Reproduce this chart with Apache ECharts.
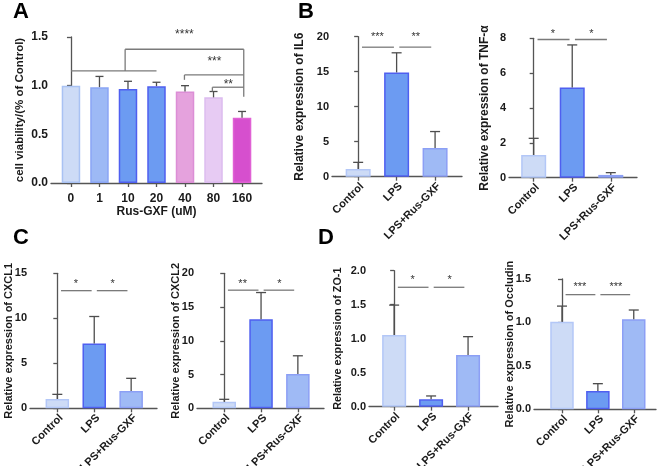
<!DOCTYPE html>
<html>
<head>
<meta charset="utf-8">
<script src="https://cdn.jsdelivr.net/npm/echarts@6/dist/echarts.min.js"></script>
<style>
  html, body { margin: 0; padding: 0; background: #fff; }
  #chart { width: 658px; height: 466px; }
</style>
</head>
<body>
<div id="chart"></div>
<script>
// ---- data ----
const groups = ["Control", "LPS", "LPS+Rus-GXF"];
const doses = ["0", "1", "10", "20", "40", "80", "160"];

const viability = [1.0, 0.985, 0.965, 0.995, 0.94, 0.88, 0.67];
const viabilitySd = [0, 0.11, 0.08, 0.04, 0.06, 0.06, 0.065];

const il6 = [1.1, 14.9, 4.1];
const il6Sd = [0.95, 2.8, 2.35];
const tnf = [1.3, 5.17, 0.16];
const tnfSd = [0.96, 2.45, 0.13];
const cxcl1 = [1.03, 7.2, 1.92];
const cxcl1Sd = [0.52, 3.0, 1.41];
const cxcl2 = [0.98, 13.2, 5.08];
const cxcl2Sd = [0.35, 3.95, 2.7];
const zo1 = [1.054, 0.108, 0.76];
const zo1Sd = [0.44, 0.05, 0.27];
const occludin = [1.008, 0.21, 1.036];
const occludinSd = [0.18, 0.085, 0.107];

// significance marks: [x1, y1, x2, y2] segments and [x, y, text] labels
const sigLinesA = [
  [0, 1.151, 3, 1.151], [1.9, 1.151, 1.9, 1.374], [1.9, 1.374, 6.06, 1.374],
  [6.06, 1.374, 6.06, 0.885], [3.98, 1.06, 3.98, 1.11], [3.98, 1.11, 6.06, 1.11],
  [4.96, 0.94, 4.96, 0.984], [4.96, 0.984, 6.06, 0.984]
];
const sigTextA = [[3.98, 1.54, "****"], [5.03, 1.264, "***"], [5.52, 1.03, "**"]];

const il6Marks = ["***", "**"];
const tnfMarks = ["*", "*"];
const cxcl1Marks = ["*", "*"];
const cxcl2Marks = ["**", "*"];
const zo1Marks = ["*", "*"];
const occludinMarks = ["***", "***"];
// [bracket line y, star y]
const il6SigY = [18.5, 20.3];
const tnfSigY = [7.93, 8.39];
const cxcl1SigY = [13.07, 14.07];
const cxcl2SigY = [17.5, 18.76];
const zo1SigY = [1.756, 1.897];
const occludinSigY = [1.32, 1.43];

// ---- styling ----
const FONT = 'Arial, "Liberation Sans", sans-serif';
const AXIS = "#555";
const groupFill = ["#cddbf6", "#6c9bf2", "#9fbaf5"];
const groupBorder = ["#b3c7f7", "#4f5ff0", "#8c9ff5"];
const doseFill = ["#cddbf6", "#9db9f5", "#6c9bf2", "#6c9bf2", "#e5a2dd", "#e7cbf3", "#d64fce"];
const doseBorder = ["#a9c2f3", "#8aa5f5", "#4f5ff0", "#4f5ff0", "#dc8ed6", "#dcbcef", "#e061d4"];

function pairLines(y) {
  return [[0.1, y, 0.93, y], [1.07, y, 1.9, y]];
}
function pairText(y, marks) {
  return [[0.5, y, marks[0]], [1.5, y, marks[1]]];
}

const panels = [
  { values: viability, sd: viabilitySd, labels: doses, fill: doseFill, border: doseBorder,
    grid: { left: 51, top: 37, width: 211, height: 146 }, xMin: -0.7, xMax: 6.7,
    yMax: 1.5, yStep: 0.5, dec: 1, yName: "cell viability/(% of Control)", nameGap: 25, nameFont: 11.5,
    xName: "Rus-GXF (uM)", rotate: 0, barWidth: 18.5, cap: 8, tickFont: 12,
    lines: sigLinesA, texts: sigTextA, starFont: 12 },
  { values: il6, sd: il6Sd, labels: groups, fill: groupFill, border: groupBorder,
    grid: { left: 332, top: 36.7, width: 130, height: 140 }, xMin: -0.68, xMax: 2.7,
    yMax: 20, yStep: 5, dec: 0, yName: "Relative expression of IL6", nameGap: 26, nameFont: 12,
    rotate: 45, barWidth: 25, cap: 10,
    lines: pairLines(il6SigY[0]), texts: pairText(il6SigY[1], il6Marks) },
  { values: tnf, sd: tnfSd, labels: groups, fill: groupFill, border: groupBorder,
    grid: { left: 509, top: 38.3, width: 128, height: 139.4 }, xMin: -0.64, xMax: 2.68,
    yMax: 8, yStep: 2, dec: 0, yName: "Relative expression of TNF-\u03b1", nameGap: 18, nameFont: 12,
    rotate: 45, barWidth: 25, cap: 10,
    lines: pairLines(tnfSigY[0]), texts: pairText(tnfSigY[1], tnfMarks) },
  { values: cxcl1, sd: cxcl1Sd, labels: groups, fill: groupFill, border: groupBorder,
    grid: { left: 30, top: 273.3, width: 127, height: 135 }, xMin: -0.74, xMax: 2.7,
    yMax: 15, yStep: 5, dec: 0, yName: "Relative expression of CXCL1", nameGap: 15.5, nameFont: 11,
    rotate: 45, barWidth: 23.5, cap: 10,
    lines: pairLines(cxcl1SigY[0]), texts: pairText(cxcl1SigY[1], cxcl1Marks) },
  { values: cxcl2, sd: cxcl2Sd, labels: groups, fill: groupFill, border: groupBorder,
    grid: { left: 197, top: 273.3, width: 127, height: 135 }, xMin: -0.74, xMax: 2.71,
    yMax: 20, yStep: 5, dec: 0, yName: "Relative expression of CXCL2", nameGap: 15.5, nameFont: 11,
    rotate: 45, barWidth: 23.5, cap: 10,
    lines: pairLines(cxcl2SigY[0]), texts: pairText(cxcl2SigY[1], cxcl2Marks) },
  { values: zo1, sd: zo1Sd, labels: groups, fill: groupFill, border: groupBorder,
    grid: { left: 369, top: 270.7, width: 129, height: 136 }, xMin: -0.68, xMax: 2.81,
    yMax: 2, yStep: 0.5, dec: 1, yName: "Relative expression of ZO-1", nameGap: 25.5, nameFont: 10.8,
    rotate: 45, barWidth: 24, cap: 10,
    lines: pairLines(zo1SigY[0]), texts: pairText(zo1SigY[1], zo1Marks) },
  { values: occludin, sd: occludinSd, labels: groups, fill: groupFill, border: groupBorder,
    grid: { left: 534, top: 279, width: 122, height: 130.3 }, xMin: -0.78, xMax: 2.62,
    yMax: 1.5, yStep: 0.5, dec: 1, yName: "Relative expression of Occludin", nameGap: 18.5, nameFont: 11,
    rotate: 45, barWidth: 23.5, cap: 10,
    lines: pairLines(occludinSigY[0]), texts: pairText(occludinSigY[1], occludinMarks) }
];

const grids = [], xAxes = [], yAxes = [], series = [];

panels.forEach((p, k) => {
  const ticks = p.labels.map((_, i) => i);
  grids.push(Object.assign({ outerBoundsMode: "none", containLabel: false }, p.grid));

  xAxes.push({
    gridIndex: k, type: "value", min: p.xMin, max: p.xMax,
    splitLine: { show: false },
    axisLine: { lineStyle: { color: AXIS, width: 1.3 } },
    axisTick: { customValues: ticks, length: 4, lineStyle: { color: AXIS, width: 1.3 } },
    axisLabel: Object.assign({
      customValues: ticks, formatter: (v) => p.labels[v], rotate: p.rotate,
      margin: p.rotate ? 4 : 10, color: "#1a1a1a", fontFamily: FONT,
      fontWeight: "bold", fontSize: p.rotate ? 11 : 12
    }, p.rotate ? { verticalAlign: "top" } : {}),
    name: p.xName || "", nameLocation: "middle", nameGap: 23, nameMoveOverlap: false,
    nameTextStyle: { color: "#1a1a1a", fontFamily: FONT, fontWeight: "bold", fontSize: 12 }
  });

  yAxes.push({
    gridIndex: k, type: "value", min: 0, max: p.yMax, interval: p.yStep,
    splitLine: { show: false },
    axisLine: { show: true, lineStyle: { color: AXIS, width: 1.3 } },
    axisTick: { show: true, length: 4, lineStyle: { color: AXIS, width: 1.3 } },
    axisLabel: {
      formatter: (v) => v.toFixed(p.dec), margin: 3, color: "#1a1a1a",
      fontFamily: FONT, fontWeight: "bold", fontSize: p.tickFont || 11
    },
    name: p.yName, nameLocation: "middle", nameGap: p.nameGap, nameMoveOverlap: false,
    nameTextStyle: { color: "#1a1a1a", fontFamily: FONT, fontWeight: "bold", fontSize: p.nameFont }
  });

  series.push({
    type: "bar", xAxisIndex: k, yAxisIndex: k, barWidth: p.barWidth, silent: true,
    data: p.values.map((v, i) => ({
      value: [i, v],
      itemStyle: { color: p.fill[i], borderColor: p.border[i], borderWidth: 1.5 }
    }))
  });

  const cap = p.cap;
  series.push({
    type: "custom", xAxisIndex: k, yAxisIndex: k, silent: true, z: 3,
    data: p.values.map((v, i) => [i, v, v + p.sd[i]]),
    encode: { x: 0, y: [1, 2] },
    renderItem: (params, api) => {
      if (api.value(2) <= api.value(1)) return null;
      const a = api.coord([api.value(0), api.value(1)]);
      const b = api.coord([api.value(0), api.value(2)]);
      const st = { stroke: "#4d4d4d", lineWidth: 1.3 };
      return {
        type: "group", children: [
          { type: "line", shape: { x1: a[0], y1: a[1], x2: b[0], y2: b[1] }, style: st },
          { type: "line", shape: { x1: b[0] - cap / 2, y1: b[1], x2: b[0] + cap / 2, y2: b[1] }, style: st }
        ]
      };
    }
  });

  series.push({
    type: "custom", xAxisIndex: k, yAxisIndex: k, silent: true, z: 4, clip: false,
    data: p.lines,
    encode: { x: [0, 2], y: [1, 3] },
    renderItem: (params, api) => {
      const a = api.coord([api.value(0), api.value(1)]);
      const b = api.coord([api.value(2), api.value(3)]);
      return {
        type: "line", shape: { x1: a[0], y1: a[1], x2: b[0], y2: b[1] },
        style: { stroke: "#7a7a7a", lineWidth: 1.3 }
      };
    }
  });

  series.push({
    type: "custom", xAxisIndex: k, yAxisIndex: k, silent: true, z: 4, clip: false,
    data: p.texts,
    encode: { x: 0, y: 1 },
    renderItem: (params, api) => {
      const c = api.coord([api.value(0), api.value(1)]);
      return {
        type: "text", x: c[0], y: c[1] + 2,
        style: {
          text: p.texts[params.dataIndex][2], fill: "#333", align: "center",
          verticalAlign: "middle", font: (p.starFont || 11) + "px " + FONT
        }
      };
    }
  });
});

const letters = [["A", 13, 1], ["B", 298, 1], ["C", 13, 227], ["D", 318, 227]];

const chart = echarts.init(document.getElementById("chart"));
chart.setOption({
  animation: false,
  backgroundColor: "#fff",
  grid: grids,
  xAxis: xAxes,
  yAxis: yAxes,
  series: series,
  graphic: letters.map(([t, x, y]) => ({
    type: "text", left: x, top: y,
    style: { text: t, fill: "#000", font: "bold 22px " + FONT }
  }))
});
</script>
</body>
</html>
